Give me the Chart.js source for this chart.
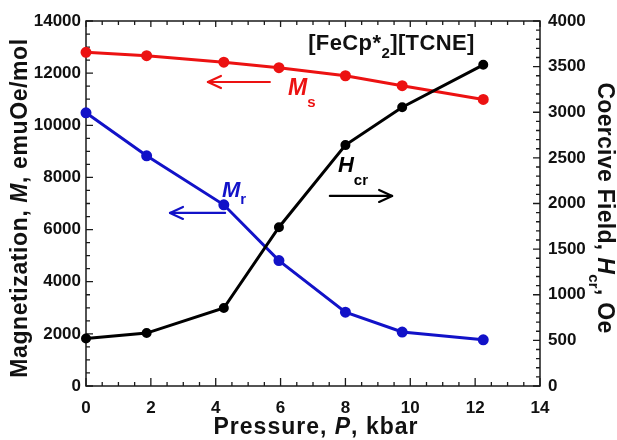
<!DOCTYPE html>
<html><head><meta charset="utf-8">
<script src="https://cdn.jsdelivr.net/npm/chart.js@4/dist/chart.umd.min.js"></script>
<style>html,body{margin:0;padding:0;background:#fff}#wrap{width:617px;height:440px;position:relative}</style>
</head><body><div id="wrap"><canvas id="c"></canvas></div>
<script>
// ---- data ----
const pressure = [0, 1.87, 4.25, 5.95, 8.0, 9.75, 12.25];           // kbar
const magSat   = [12800, 12670, 12420, 12210, 11900, 11520, 10990];  // Ms, emuOe/mol
const magRem   = [10480, 8830, 6950, 4810, 2830, 2070, 1770];        // Mr, emuOe/mol
const coercive = [520, 580, 855, 1740, 2640, 3055, 3520];            // Hcr, Oe
const xTickLabels = [0, 2, 4, 6, 8, 10, 12, 14];
const leftTickLabels = [0, 2000, 4000, 6000, 8000, 10000, 12000, 14000];
const rightTickLabels = [0, 500, 1000, 1500, 2000, 2500, 3000, 3500, 4000];

const RED = 'rgb(236,18,18)', BLUE = 'rgb(18,18,200)', BLACK = '#000';
const FF = '"Liberation Sans", Arial, Helvetica, sans-serif';
const pts = vals => pressure.map((p, i) => ({x: p, y: vals[i]}));

function drawRuns(ctx, runs, x, y, align, spacing) {
  ctx.letterSpacing = (spacing || 0) + 'px';
  let w = 0;
  runs.forEach(r => { ctx.font = r.f; r.w = ctx.measureText(r.t).width; w += r.w; });
  let cx = align === 'center' ? x - w / 2 : x;
  runs.forEach(r => { ctx.font = r.f; ctx.fillText(r.t, cx, y + (r.dy || 0)); cx += r.w; });
  ctx.letterSpacing = '0px';
}
function arrow(ctx, x1, y1, x2, y2, color) {
  ctx.save();
  ctx.strokeStyle = color; ctx.lineWidth = 2.2; ctx.lineCap = 'round'; ctx.lineJoin = 'round';
  ctx.beginPath(); ctx.moveTo(x1, y1); ctx.lineTo(x2, y2); ctx.stroke();
  const dir = Math.sign(x2 - x1);
  ctx.beginPath();
  ctx.moveTo(x2 - dir * 13, y2 - 6); ctx.lineTo(x2, y2); ctx.lineTo(x2 - dir * 13, y2 + 6);
  ctx.stroke();
  ctx.restore();
}

const frameTicks = {
  id: 'frameTicks',
  beforeDatasetsDraw(chart) {
    const {ctx, chartArea: a, scales: {x, y, y1}} = chart;
    ctx.save();
    ctx.strokeStyle = '#1a1a1a'; ctx.lineWidth = 1.5;
    ctx.strokeRect(a.left, a.top, a.right - a.left, a.bottom - a.top);
    ctx.lineWidth = 1.3;
    ctx.beginPath();
    for (let v = 0; v <= 14.0001; v += 0.5) {
      const px = x.getPixelForValue(v);
      const major = Math.abs(v / 2 - Math.round(v / 2)) < 1e-6;
      ctx.moveTo(px, a.bottom); ctx.lineTo(px, a.bottom - (major ? 8 : 4));
      ctx.moveTo(px, a.top); ctx.lineTo(px, a.top + (major ? 6 : 4));
    }
    for (let v = 0; v <= 14000.1; v += 500) {
      const py = y.getPixelForValue(v);
      const major = v % 2000 === 0;
      ctx.moveTo(a.left, py); ctx.lineTo(a.left + (major ? 7 : 4), py);
    }
    for (let v = 0; v <= 4000.1; v += 100) {
      const py = y1.getPixelForValue(v);
      const major = v % 500 === 0;
      ctx.moveTo(a.right, py); ctx.lineTo(a.right - (major ? 7 : 4), py);
    }
    ctx.stroke();
    ctx.restore();
  },
  afterDatasetsDraw(chart) {
    const {ctx, scales: {x, y}} = chart;
    ctx.save();
    ctx.textBaseline = 'alphabetic';
    // compound name
    ctx.fillStyle = '#111';
    drawRuns(ctx, [
      {t: '[FeCp*', f: `bold 22px ${FF}`},
      {t: '2', f: `bold 15px ${FF}`, dy: 8},
      {t: '][TCNE]', f: `bold 22px ${FF}`}
    ], x.getPixelForValue(6.85), y.getPixelForValue(12880), 'left', 0.4);
    // Ms
    ctx.fillStyle = RED;
    drawRuns(ctx, [
      {t: 'M', f: `italic bold 23px ${FF}`},
      {t: 's', f: `bold 15px ${FF}`, dy: 12}
    ], x.getPixelForValue(6.23), y.getPixelForValue(11170), 'left');
    arrow(ctx, x.getPixelForValue(5.67), y.getPixelForValue(11660), x.getPixelForValue(3.76), y.getPixelForValue(11660), RED);
    // Mr
    ctx.fillStyle = BLUE;
    drawRuns(ctx, [
      {t: 'M', f: `italic bold 22px ${FF}`},
      {t: 'r', f: `bold 15px ${FF}`, dy: 7}
    ], x.getPixelForValue(4.19), y.getPixelForValue(7250), 'left');
    arrow(ctx, x.getPixelForValue(4.29), y.getPixelForValue(6640), x.getPixelForValue(2.59), y.getPixelForValue(6640), BLUE);
    // Hcr
    ctx.fillStyle = BLACK;
    drawRuns(ctx, [
      {t: 'H', f: `italic bold 22px ${FF}`},
      {t: 'cr', f: `bold 15px ${FF}`, dy: 13}
    ], x.getPixelForValue(7.77), y.getPixelForValue(8210), 'left');
    arrow(ctx, x.getPixelForValue(7.52), y.getPixelForValue(7290), x.getPixelForValue(9.44), y.getPixelForValue(7290), BLACK);
    ctx.restore();
  },
  afterDraw(chart) {
    const {ctx} = chart;
    ctx.save();
    ctx.fillStyle = '#111';
    ctx.textBaseline = 'middle';
    // bottom title
    drawRuns(ctx, [
      {t: 'Pressure, ', f: `bold 23px ${FF}`},
      {t: 'P', f: `italic bold 23px ${FF}`},
      {t: ', kbar', f: `bold 23px ${FF}`}
    ], 316, 428, 'center', 1);
    // left title
    ctx.save();
    ctx.translate(21, 208); ctx.rotate(-Math.PI / 2);
    drawRuns(ctx, [
      {t: 'Magnetization, ', f: `bold 23px ${FF}`},
      {t: 'M', f: `italic bold 23px ${FF}`},
      {t: ', emuOe/mol', f: `bold 23px ${FF}`}
    ], 0, 0, 'center', 0.6);
    ctx.restore();
    // right title
    ctx.save();
    ctx.translate(604, 208); ctx.rotate(Math.PI / 2);
    drawRuns(ctx, [
      {t: 'Coercive Field, ', f: `bold 23px ${FF}`},
      {t: 'H', f: `italic bold 23px ${FF}`},
      {t: 'cr', f: `bold 15px ${FF}`, dy: 11},
      {t: ', Oe', f: `bold 23px ${FF}`}
    ], 0, 0, 'center', 0.3);
    ctx.restore();
    ctx.restore();
  }
};

const lineDs = (label, vals, color, axis, order, r) => ({
  label, data: pts(vals), yAxisID: axis, order,
  borderColor: color, backgroundColor: color, pointBackgroundColor: color, pointBorderColor: color,
  borderWidth: 3, pointRadius: r, pointHoverRadius: r, tension: 0, clip: false
});

new Chart(document.getElementById('c'), {
  type: 'line',
  data: {
    datasets: [
      lineDs('Hcr', coercive, BLACK, 'y1', 0, 3.5),
      lineDs('Mr', magRem, BLUE, 'y', 1, 4),
      lineDs('Ms', magSat, RED, 'y', 2, 4)
    ]
  },
  options: {
    responsive: true, maintainAspectRatio: false, animation: false,
    layout: {padding: {top: 21, left: 0, right: 0, bottom: 0}},
    plugins: {legend: {display: false}, tooltip: {enabled: false}},
    scales: {
      x: {
        type: 'linear', min: 0, max: 14,
        afterBuildTicks: s => { s.ticks = xTickLabels.map(v => ({value: v})); },
        afterFit: s => { s.height = 54; },
        grid: {display: false, drawTicks: false}, border: {display: false},
        ticks: {autoSkip: false, maxRotation: 0, padding: 12, color: '#111', font: {family: FF, size: 17, weight: 'bold'}}
      },
      y: {
        type: 'linear', position: 'left', min: 0, max: 14000,
        afterBuildTicks: s => { s.ticks = leftTickLabels.map(v => ({value: v})); },
        afterFit: s => { s.width = 86; },
        grid: {display: false, drawTicks: false}, border: {display: false},
        ticks: {autoSkip: false, padding: 5, color: '#111', font: {family: FF, size: 17, weight: 'bold'}, callback: v => String(v)}
      },
      y1: {
        type: 'linear', position: 'right', min: 0, max: 4000,
        afterBuildTicks: s => { s.ticks = rightTickLabels.map(v => ({value: v})); },
        afterFit: s => { s.width = 77; },
        grid: {display: false, drawTicks: false}, border: {display: false},
        ticks: {autoSkip: false, padding: 8, color: '#111', font: {family: FF, size: 17, weight: 'bold'}, callback: v => String(v)}
      }
    }
  },
  plugins: [frameTicks]
});
</script>
</body></html>
